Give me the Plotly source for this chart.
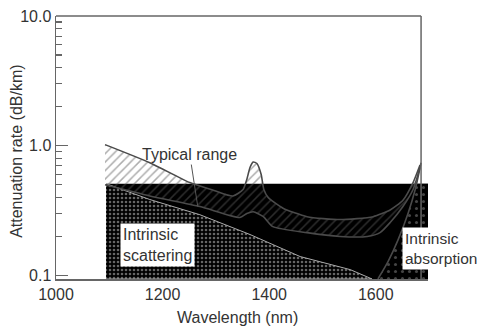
import math
import plotly.graph_objects as go

# ---- data (wavelength nm, attenuation dB/km) ----
wl_upper = [1092, 1176, 1251, 1298, 1332, 1351, 1358, 1364, 1370, 1377, 1385,
            1390, 1398, 1426, 1471, 1533, 1595, 1627, 1651, 1670, 1683]
att_upper = [1.02, 0.74, 0.52, 0.45, 0.41, 0.46, 0.55, 0.68, 0.75, 0.73, 0.60,
             0.46, 0.40, 0.33, 0.284, 0.27, 0.284, 0.32, 0.38, 0.52, 0.71]

wl_lower = [1092, 1176, 1270, 1345, 1358, 1370, 1389, 1407, 1471, 1533, 1584,
            1608, 1627, 1651, 1670, 1683]
att_lower = [0.50, 0.41, 0.34, 0.28, 0.30, 0.31, 0.284, 0.238, 0.214, 0.20, 0.20,
             0.214, 0.256, 0.34, 0.46, 0.68]

wl_scat = [1094, 1176, 1270, 1364, 1458, 1552, 1593]
att_scat = [0.51, 0.385, 0.294, 0.207, 0.14, 0.111, 0.094]

wl_abs = [1604, 1623, 1642, 1661, 1674, 1685]
att_abs = [0.094, 0.128, 0.189, 0.305, 0.46, 0.74]

block_wl = [1094, 1698]
block_top = 0.51
att_floor = 0.094

x_ticks = [1000, 1200, 1400, 1600]
y_ticks = [0.1, 1.0, 10.0]
y_ticktext = ["0.1", "1.0", "10.0"]
y_minor = [0.2, 0.3, 0.4, 0.5, 0.6, 0.7, 0.8, 0.9, 2, 3, 4, 5, 6, 7, 8, 9]

FONT = "Liberation Sans"
TXT = "#333333"
AX = "#666666"

fig = go.Figure()

# black block
fig.add_trace(go.Scatter(
    x=[block_wl[0], block_wl[1], block_wl[1], block_wl[0], block_wl[0]],
    y=[att_floor, att_floor, block_top, block_top, att_floor],
    mode="lines", fill="toself", fillcolor="black",
    line=dict(width=0), hoverinfo="skip", showlegend=False))

# intrinsic scattering (speckled)
fig.add_trace(go.Scatter(
    x=wl_scat + [wl_scat[0]], y=att_scat + [att_floor],
    mode="lines", fill="toself", fillcolor="black",
    fillpattern=dict(shape=".", fgcolor="#cccccc", bgcolor="black",
                     size=4, solidity=0.33),
    line=dict(width=1, color="#aaaaaa"), hoverinfo="skip", showlegend=False))

# intrinsic absorption region (sparse dots), right of absorption curve
ax_, ay_ = [], []
for i, (w, a) in enumerate(zip(wl_abs, att_abs)):
    if a <= block_top:
        ax_.append(w); ay_.append(a)
    else:
        w0, a0 = wl_abs[i - 1], att_abs[i - 1]
        f = (math.log10(block_top) - math.log10(a0)) / (math.log10(a) - math.log10(a0))
        ax_.append(w0 + f * (w - w0)); ay_.append(block_top)
        break
ax_ += [block_wl[1], block_wl[1]]
ay_ += [block_top, att_floor]
fig.add_trace(go.Scatter(
    x=ax_, y=ay_, mode="lines", fill="toself", fillcolor="black",
    fillpattern=dict(shape=".", fgcolor="#8a8a8a", bgcolor="black",
                     size=7, solidity=0.15),
    line=dict(width=0), hoverinfo="skip", showlegend=False))

# typical range band (hatched)
fig.add_trace(go.Scatter(
    x=wl_upper + wl_lower[::-1], y=att_upper + att_lower[::-1],
    mode="lines", fill="toself",
    fillpattern=dict(shape="/", fgcolor="#5a5a5a", bgcolor="rgba(0,0,0,0)",
                     size=6, solidity=0.25),
    line=dict(width=0), hoverinfo="skip", showlegend=False))

# boundary curves
for xs, ys in [(wl_upper, att_upper), (wl_lower, att_lower), (wl_abs, att_abs)]:
    fig.add_trace(go.Scatter(x=xs, y=ys, mode="lines",
                             line=dict(color="#4a4a4a", width=1.6, shape="spline", smoothing=0.6),
                             hoverinfo="skip", showlegend=False))

lg = math.log10

annotations = [
    dict(x=1266, y=lg(0.34), xref="x", yref="y", text="Typical range",
         showarrow=True, arrowhead=0, arrowwidth=1, arrowcolor="#555",
         ax=-8, ay=-52, font=dict(family=FONT, size=16, color=TXT)),
    dict(x=1120, y=lg(0.256), xref="x", yref="y", xanchor="left", yanchor="top",
         text="Intrinsic<br>scattering", align="left", showarrow=False,
         bgcolor="white", borderpad=2, font=dict(family=FONT, size=16, color=TXT)),
    dict(x=1649, y=lg(0.238), xref="x", yref="y", xanchor="left", yanchor="top",
         text="Intrinsic<br>absorption", align="left", showarrow=False,
         bgcolor="white", borderpad=2, font=dict(family=FONT, size=15.5, color=TXT)),
    dict(x=0.487, y=-0.148, xref="paper", yref="paper", xanchor="center", yanchor="middle",
         text="Wavelength (nm)",
         showarrow=False, font=dict(family=FONT, size=16, color=TXT)),
    dict(x=-0.105, y=0.487, xref="paper", yref="paper", xanchor="center", yanchor="middle",
         text="Attenuation rate (dB/km)",
         textangle=-90, showarrow=False, font=dict(family=FONT, size=16, color=TXT)),
]

shapes = [
    dict(type="line", xref="x", yref="paper", x0=1000, x1=1685, y0=1, y1=1,
         line=dict(color=AX, width=1.5)),
    dict(type="line", xref="x", yref="paper", x0=1685, x1=1685, y0=0, y1=1,
         line=dict(color=AX, width=1.5)),
]

fig.update_layout(
    width=481, height=332,
    margin=dict(l=56, r=53, t=16, b=53, autoexpand=False),
    paper_bgcolor="white", plot_bgcolor="white",
    font=dict(family=FONT, size=16, color=TXT),
    annotations=annotations, shapes=shapes,
    hovermode=False,
    xaxis=dict(range=[1000, 1698], tickvals=x_ticks, showgrid=False, zeroline=False,
               automargin=False, fixedrange=True,
               showline=True, linecolor=AX, linewidth=1.5, ticks="",
               tickfont=dict(family=FONT, size=16, color=TXT)),
    yaxis=dict(type="log", range=[-1.027, 1.0], tickvals=y_ticks, ticktext=y_ticktext,
               automargin=False, fixedrange=True,
               showgrid=False, zeroline=False, showline=True, linecolor=AX, linewidth=1.5,
               ticks="inside", ticklen=12, tickcolor=AX, tickwidth=1.2,
               tickfont=dict(family=FONT, size=16, color=TXT),
               minor=dict(tickvals=y_minor, ticks="inside", ticklen=6,
                          tickcolor=AX, tickwidth=1.2, showgrid=False)),
)

fig.write_html("out.html",
               config={"displayModeBar": False, "staticPlot": True},
               post_script="document.body.style.margin='0';document.body.style.overflow='hidden';")
